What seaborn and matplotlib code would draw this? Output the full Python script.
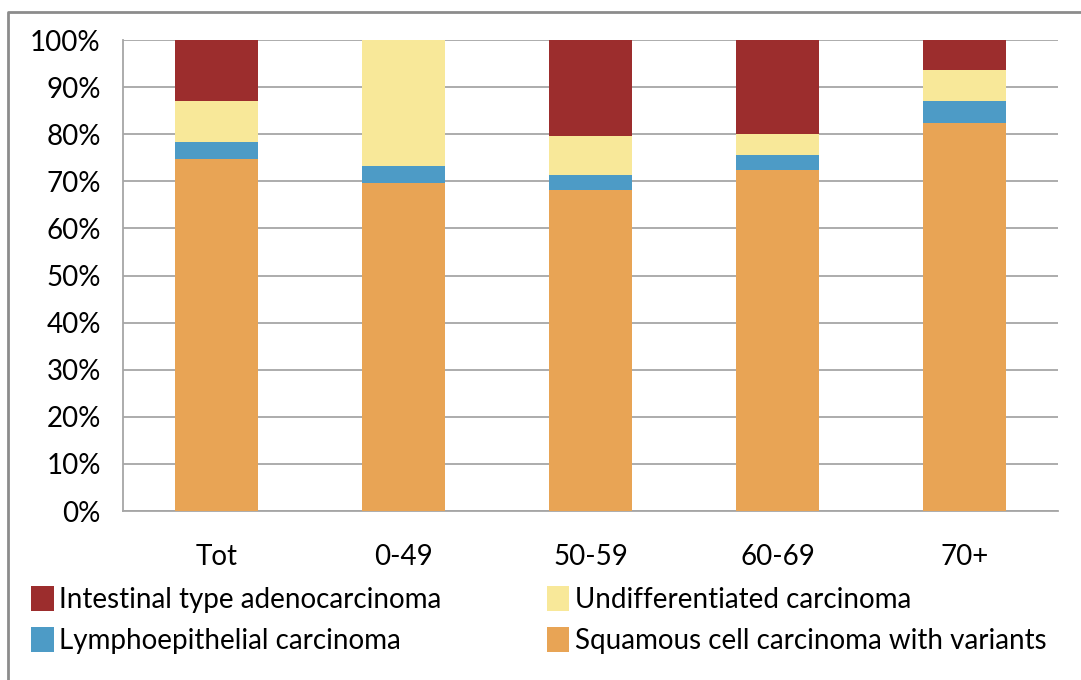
import pandas as pd
import matplotlib.pyplot as plt
import seaborn as sns
from matplotlib.patches import Patch
from matplotlib.lines import Line2D

# Data (percent of cases per age group)
groups = ["Tot", "0-49", "50-59", "60-69", "70+"]
squamous = [74.7, 69.6, 68.2, 72.4, 82.4]
lympho = [3.6, 3.6, 3.1, 3.2, 4.6]
undiff = [8.7, 26.8, 8.3, 4.4, 6.6]
intestinal = [13.0, 0.0, 20.4, 20.0, 6.4]

series_names = ["Intestinal type adenocarcinoma", "Lymphoepithelial carcinoma",
                "Undifferentiated carcinoma", "Squamous cell carcinoma with variants"]
colors = {"Intestinal type adenocarcinoma": "#9C2D2D",
          "Undifferentiated carcinoma": "#F8E899",
          "Lymphoepithelial carcinoma": "#4D9BC6",
          "Squamous cell carcinoma with variants": "#E8A455"}

df = pd.DataFrame({"group": groups, "sq": squamous, "ly": lympho,
                   "un": undiff, "in": intestinal})
# cumulative tops, drawn from the tallest down so lower segments sit on top
df["c_sq"] = df["sq"]
df["c_ly"] = df["c_sq"] + df["ly"]
df["c_un"] = df["c_ly"] + df["un"]
df["c_in"] = df["c_un"] + df["in"]

sns.set_style("white")
plt.rcParams["font.family"] = ["Lato", "DejaVu Sans"]
plt.rcParams["text.color"] = "black"

fig = plt.figure(figsize=(10.81, 6.8), dpi=100)
ax = fig.add_axes([0.1138, 0.2485, 0.865, 0.6926])

for col, name in [("c_in", "Intestinal type adenocarcinoma"),
                  ("c_un", "Undifferentiated carcinoma"),
                  ("c_ly", "Lymphoepithelial carcinoma"),
                  ("c_sq", "Squamous cell carcinoma with variants")]:
    sns.barplot(data=df, x="group", y=col, color=colors[name], width=0.44,
                saturation=1, ax=ax, zorder=3, linewidth=0)

ax.set_ylim(0, 100)
ax.set_xlim(-0.5, 4.5)
ax.set_yticks(range(0, 101, 10))
ax.set_yticklabels([f"{v}%" for v in range(0, 101, 10)], fontsize=20)
ax.set_xticks(range(5))
ax.set_xticklabels(groups, fontsize=20)
ax.set_xlabel("")
ax.set_ylabel("")
ax.yaxis.grid(True, color="#A6A6A6", linewidth=1.3, zorder=0)
ax.set_axisbelow(True)
for s in ["top", "right"]:
    ax.spines[s].set_visible(False)
for s in ["left", "bottom"]:
    ax.spines[s].set_color("#A6A6A6")
    ax.spines[s].set_linewidth(1.3)
ax.tick_params(axis="y", length=7, color="#A6A6A6", labelcolor="black", width=1.3, pad=9)
ax.tick_params(axis="x", length=0, pad=24, labelcolor="black")
# category boundary ticks on the x axis
ax.set_xticks([i - 0.5 for i in range(6)], minor=True)
ax.tick_params(axis="x", which="minor", length=9, color="#A6A6A6", width=1.3)

handles = [Patch(facecolor=colors[n], edgecolor="none") for n in series_names]
fig.legend(handles, series_names, loc="upper left", bbox_to_anchor=(0.029, 0.138),
           ncol=2, frameon=False, fontsize=20, handlelength=0.8, handleheight=1.0,
           handletextpad=0.2, columnspacing=3.8, labelspacing=0.5,
           borderaxespad=0, borderpad=0)

# outer frame of the figure box
fig.add_artist(Line2D([8 / 1081, 8 / 1081, 1.0], [0.0, 1 - 12 / 680, 1 - 12 / 680],
                      transform=fig.transFigure, color="#8C8C8C", linewidth=2))

fig.savefig("out.png", dpi=100)
